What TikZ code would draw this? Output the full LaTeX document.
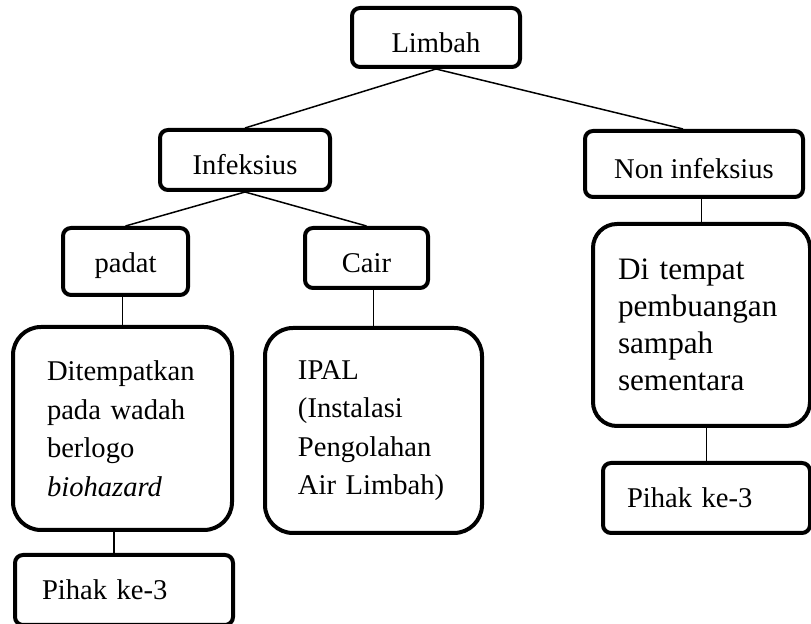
\documentclass[tikz,border=0pt]{standalone}
\usepackage{fontspec}
\setmainfont{Liberation Serif}
\tikzstyle{box} = [draw, rectangle, rounded corners=4pt, line width=2pt,
font=\fontsize{14.3pt}{19.25pt}\selectfont]
\tikzstyle{cbox} = [box, text height=15pt, text depth=0pt]
\tikzstyle{bigbox} = [box, rounded corners=14pt, align=left]
\tikzstyle{line} = [draw, line width=0.75pt]

\begin{document}
\begin{tikzpicture}[x=0.5pt, y=-0.5pt]
    \useasboundingbox (0,0) rectangle (811,624);
    %% top
    \node[cbox, minimum width=84pt, minimum height=29.5pt] (limbah) at (436,37.5) {Limbah};
    \node[cbox, minimum width=85pt, minimum height=30pt] (inf) at (245,160) {Infeksius};
    \node[cbox, minimum width=109pt, minimum height=33pt] (noninf) at (694,164) {Non infeksius};
    %% infeksius branch
    \node[cbox, text height=11.5pt, minimum width=62.5pt, minimum height=33.5pt] (padat) at (125.5,261.5) {padat};
    \node[cbox, minimum width=61.5pt, minimum height=30pt] (cair) at (366.5,258) {Cair};
    \node[bigbox, minimum width=109.5pt, minimum height=101.5pt, text width=75.5pt] (wadah) at (122.5,428.5)
        {Ditempatkan\\pada wadah\\berlogo\\\textit{biohazard}};
    \node[bigbox, minimum width=108.5pt, minimum height=102.5pt, text width=75.5pt] (ipal) at (373.5,430.5)
        {IPAL\\(Instalasi\\Pengolahan\\Air Limbah)};
    \node[box, align=left, minimum width=109pt, minimum height=35pt, text width=82pt] (pihakA) at (124,590) {Pihak ke-3};
    %% non infeksius branch
    \node[bigbox, rounded corners=12pt, minimum width=108.5pt, minimum height=101pt, text width=83.5pt,
        font=\fontsize{15.6pt}{18.4pt}\selectfont] (tps) at (701.5,325)
        {Di tempat\\pembuangan\\sampah\\sementara};
    \node[box, align=left, minimum width=103.5pt, minimum height=35pt, text width=79.5pt] (pihakB) at (706.5,498) {Pihak ke-3};
    %% connectors
    \path [line] (limbah.south) -- (inf.north);
    \path [line] (limbah.south) -- ([xshift=-5.5pt]noninf.north);
    \path [line] (inf.south) -- (padat.north);
    \path [line] (inf.south) -- (cair.north);
    \path [line] (wadah.north |- padat.south) -- (wadah.north);
    \path [line] (ipal.north |- cair.south) -- (ipal.north);
    \path [line] ([xshift=-5pt]pihakA.north |- wadah.south) -- ([xshift=-5pt]pihakA.north);
    \path [line] (tps.north |- noninf.south) -- (tps.north);
    \path [line] (pihakB.north |- tps.south) -- (pihakB.north);
\end{tikzpicture}
\end{document}
